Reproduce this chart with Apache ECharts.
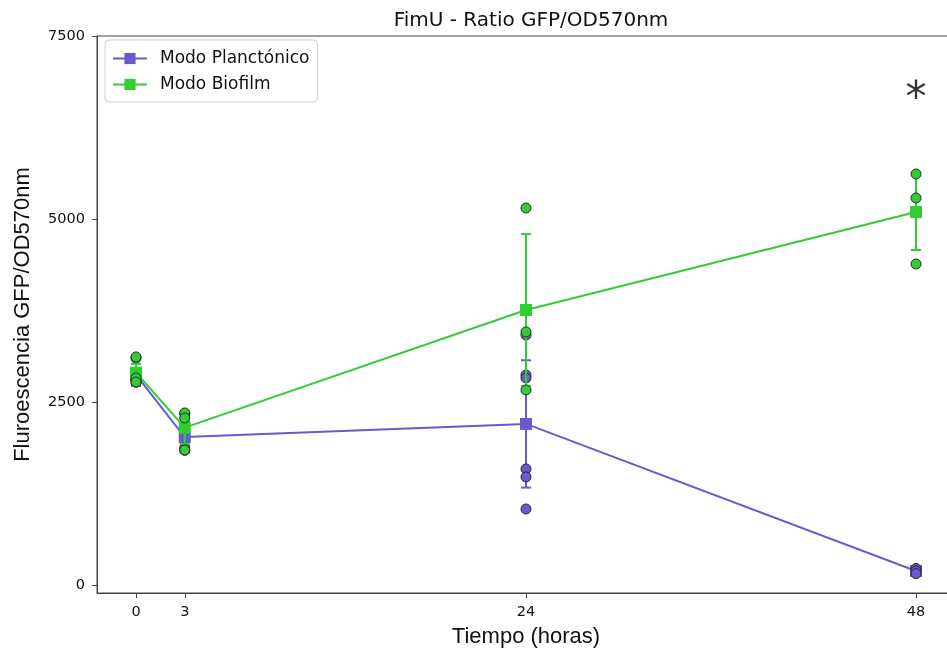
<!DOCTYPE html>
<html>
<head>
<meta charset="utf-8">
<script src="https://cdn.jsdelivr.net/npm/echarts@6/dist/echarts.min.js"></script>
<style>html,body{margin:0;padding:0;background:#fff}#c{width:947px;height:655px}</style>
</head>
<body>
<div id="c"></div>
<script>
// ---- data ----
const times = [0, 3, 24, 48];
const xTicks = [0, 3, 24, 48];
const yTicks = [0, 2500, 5000, 7500];

const planctMean = [2870, 2020, 2200, 190];
const planctErr  = [150, 210, 870, 30];
const planctPts = [
  [0, 3100], [0, 2800], [0, 2770],
  [3, 2340], [3, 1880], [3, 1840],
  [24, 3415], [24, 2869], [24, 2828], [24, 1585], [24, 1475], [24, 1038],
  [48, 225], [48, 190], [48, 155]
];

const biofMean = [2900, 2150, 3757, 5096];
const biofErr  = [120, 220, 1037, 520];
const biofPts = [
  [0, 3115], [0, 2828], [0, 2773],
  [3, 2350], [3, 2281], [3, 1844],
  [24, 5150], [24, 3456], [24, 2664],
  [48, 5615], [48, 5287], [48, 4385]
];

const starX = 48, starY = 6630;

const cPur = '#6a5acd', cGrn = '#32cd32';

function lineData(means){ return times.map((t,i)=>[t, means[i]]); }
function errData(means, errs){ return times.map((t,i)=>[t, means[i]-errs[i], means[i]+errs[i]]); }

function errSeries(name, data, color, z){
  return {
    type: 'custom', name: name, z: z, data: data, silent: true,
    renderItem: function(params, api){
      const x = api.value(0), lo = api.value(1), hi = api.value(2);
      const p1 = api.coord([x, lo]), p2 = api.coord([x, hi]);
      const w = 5;
      const st = {stroke: color, lineWidth: 2};
      return {type:'group', children:[
        {type:'line', shape:{x1:p1[0], y1:p1[1], x2:p2[0], y2:p2[1]}, style: st},
        {type:'line', shape:{x1:p1[0]-w, y1:p1[1], x2:p1[0]+w, y2:p1[1]}, style: st},
        {type:'line', shape:{x1:p2[0]-w, y1:p2[1], x2:p2[0]+w, y2:p2[1]}, style: st}
      ]};
    }
  };
}

const chart = echarts.init(document.getElementById('c'), null, {renderer:'canvas'});
const font = 'DejaVu Sans';
chart.setOption({
  animation: false,
  backgroundColor: '#fff',
  title: {
    text: 'FimU - Ratio GFP/OD570nm',
    left: 526, top: 6, textAlign: 'center',
    textStyle: {fontFamily: font, fontSize: 20, fontWeight: 'normal', color: '#111'}
  },
  legend: {
    data: ['Modo Planctónico', 'Modo Biofilm'],
    orient: 'vertical', left: 105, top: 40,
    padding: [10, 8, 9, 7], itemGap: 9,
    itemWidth: 34, itemHeight: 14,
    borderColor: '#d0d0d0', borderWidth: 1, borderRadius: 4,
    textStyle: {fontFamily: font, fontSize: 17, color: '#111', padding: [0, 0, 0, 8]}
  },
  grid: {left: 97, top: 36, width: 858, height: 557, outerBoundsMode: 'none',
         show: true, borderColor: '#444', borderWidth: 1},
  xAxis: {
    type: 'value', min: -2.4, max: 50.4,
    name: 'Tiempo (horas)', nameLocation: 'middle', nameGap: 33,
    nameTextStyle: {fontFamily: 'Liberation Sans', fontSize: 22, color: '#111'},
    axisLine: {show: true, onZero: false, lineStyle: {color: '#444', width: 1}},
    axisTick: {show: true, length: 5, lineStyle: {color: '#444'}, customValues: xTicks},
    axisLabel: {fontFamily: font, fontSize: 14.5, color: '#111', margin: 12, customValues: xTicks,
                formatter: v => String(v)},
    splitLine: {show: false}
  },
  yAxis: {
    type: 'value', min: -110, max: 7500,
    name: 'Fluroescencia GFP/OD570nm', nameLocation: 'middle', nameGap: 63,
    nameTextStyle: {fontFamily: 'Liberation Sans', fontSize: 22, color: '#111'},
    axisLine: {show: true, onZero: false, lineStyle: {color: '#444', width: 1}},
    axisTick: {show: true, length: 5, lineStyle: {color: '#444'}, customValues: yTicks},
    axisLabel: {fontFamily: font, fontSize: 14.5, color: '#111', margin: 12, customValues: yTicks,
                formatter: v => String(v)},
    splitLine: {show: false}
  },
  series: [
    errSeries('errP', errData(planctMean, planctErr), cPur, 2),
    {
      name: 'Modo Planctónico', type: 'line', z: 3,
      data: lineData(planctMean),
      symbol: 'rect', symbolSize: 12, showSymbol: true,
      lineStyle: {color: cPur, width: 2}, itemStyle: {color: cPur}
    },
    {
      name: 'ptsP', type: 'scatter', z: 4, data: planctPts,
      symbol: 'circle', symbolSize: 10,
      itemStyle: {color: cPur, borderColor: '#2a2a2a', borderWidth: 1, opacity: 1}
    },
    errSeries('errB', errData(biofMean, biofErr), cGrn, 5),
    {
      name: 'Modo Biofilm', type: 'line', z: 6,
      data: lineData(biofMean),
      symbol: 'rect', symbolSize: 12, showSymbol: true,
      lineStyle: {color: cGrn, width: 2}, itemStyle: {color: cGrn}
    },
    {
      name: 'ptsB', type: 'scatter', z: 7, data: biofPts,
      symbol: 'circle', symbolSize: 10,
      itemStyle: {color: cGrn, borderColor: '#2a2a2a', borderWidth: 1, opacity: 1}
    },
    {
      name: 'sig', type: 'scatter', z: 8, data: [[starX, starY]],
      symbol: 'circle', symbolSize: 2, silent: true,
      itemStyle: {color: 'rgba(0,0,0,0)'},
      label: {show: true, position: 'inside', formatter: '*',
              fontFamily: font, fontSize: 42, color: '#000'}
    }
  ]
});
</script>
</body>
</html>
